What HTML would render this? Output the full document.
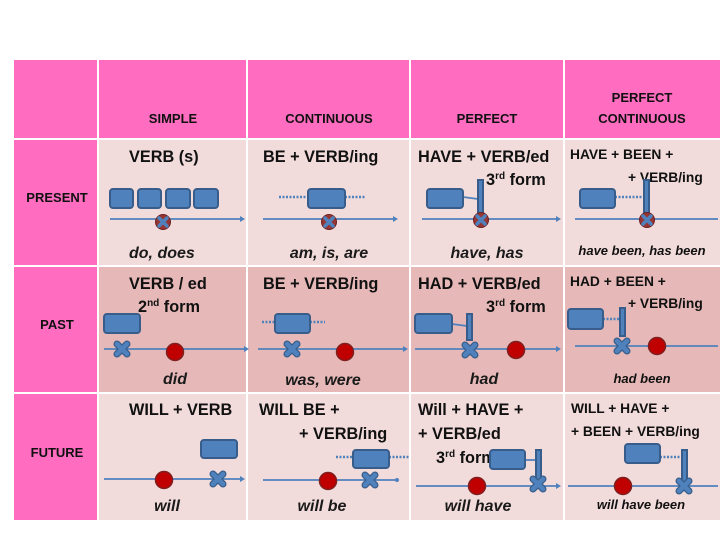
<!DOCTYPE html>
<html><head><meta charset="utf-8"><style>
html,body{margin:0;padding:0;background:#fff;}
svg{display:block;}
text{font-family:"Liberation Sans",sans-serif;fill:#111;}
.h{font-size:13px;font-weight:bold;}
.f{font-size:16.3px;font-weight:bold;}
.fs{font-size:13.8px;font-weight:bold;}
.i{font-size:16px;font-style:italic;font-weight:bold;fill:#1a1a1a;}
.is{font-size:13px;font-style:italic;font-weight:bold;}
</style></head><body>
<svg width="720" height="540" viewBox="0 0 720 540" xmlns="http://www.w3.org/2000/svg">
<defs>
<g id="x"><path d="M-5,-5L5,5M5,-5L-5,5" stroke="#385d8a" stroke-width="7" stroke-linecap="round"/><path d="M-5,-5L5,5M5,-5L-5,5" stroke="#4f81bd" stroke-width="4.5" stroke-linecap="round"/></g>
<g id="d"><circle r="8.5" fill="#c00000" stroke="#7f2020" stroke-width="1.5"/></g>
<g id="cx"><circle r="7.5" fill="#943634" stroke="#6b2020" stroke-width="1"/><path d="M-4,-4L4,4M4,-4L-4,4" stroke="#4f81bd" stroke-width="3.5" stroke-linecap="round"/></g>
</defs>
<rect width="720" height="540" fill="#fff"/>
<rect x="14" y="60" width="83" height="78" fill="#ff6cc0"/>
<rect x="99" y="60" width="147" height="78" fill="#ff6cc0"/>
<rect x="248" y="60" width="161" height="78" fill="#ff6cc0"/>
<rect x="411" y="60" width="152" height="78" fill="#ff6cc0"/>
<rect x="565" y="60" width="155" height="78" fill="#ff6cc0"/>
<rect x="14" y="140" width="83" height="125" fill="#ff6cc0"/>
<rect x="14" y="267" width="83" height="125" fill="#ff6cc0"/>
<rect x="14" y="394" width="83" height="126" fill="#ff6cc0"/>
<g fill="#f2dcdb">
<rect x="99" y="140" width="147" height="125"/><rect x="248" y="140" width="161" height="125"/><rect x="411" y="140" width="152" height="125"/><rect x="565" y="140" width="155" height="125"/>
<rect x="99" y="394" width="147" height="126"/><rect x="248" y="394" width="161" height="126"/><rect x="411" y="394" width="152" height="126"/><rect x="565" y="394" width="155" height="126"/>
</g>
<g fill="#e6b9b8">
<rect x="99" y="267" width="147" height="125"/><rect x="248" y="267" width="161" height="125"/><rect x="411" y="267" width="152" height="125"/><rect x="565" y="267" width="155" height="125"/>
</g>
<text class="h" x="173" y="123" text-anchor="middle">SIMPLE</text>
<text class="h" x="329" y="123" text-anchor="middle">CONTINUOUS</text>
<text class="h" x="487" y="123" text-anchor="middle">PERFECT</text>
<text class="h" x="642" y="102" text-anchor="middle">PERFECT</text>
<text class="h" x="642" y="123" text-anchor="middle">CONTINUOUS</text>
<text class="h" x="57" y="202" text-anchor="middle">PRESENT</text>
<text class="h" x="57" y="329" text-anchor="middle">PAST</text>
<text class="h" x="57" y="457" text-anchor="middle">FUTURE</text>
<text class="f" x="129" y="162">VERB (s)</text>
<text class="f" x="263" y="162">BE + VERB/ing</text>
<text class="f" x="418" y="162">HAVE + VERB/ed</text>
<text class="f" x="486" y="185">3<tspan font-size="10" dy="-6">rd</tspan><tspan dy="6"> form</tspan></text>
<text class="fs" x="570" y="159">HAVE + BEEN +</text>
<text class="fs" x="628" y="182">+ VERB/ing</text>
<text class="i" x="129" y="258">do, does</text>
<text class="i" x="329" y="258" text-anchor="middle">am, is, are</text>
<text class="i" x="487" y="258" text-anchor="middle">have, has</text>
<text class="is" x="642" y="255" text-anchor="middle">have been, has been</text>
<text class="f" x="129" y="289">VERB / ed</text>
<text class="f" x="138" y="312">2<tspan font-size="10" dy="-6">nd</tspan><tspan dy="6">  form</tspan></text>
<text class="f" x="263" y="289">BE + VERB/ing</text>
<text class="f" x="418" y="289">HAD + VERB/ed</text>
<text class="f" x="486" y="312">3<tspan font-size="10" dy="-6">rd</tspan><tspan dy="6"> form</tspan></text>
<text class="fs" x="570" y="286">HAD + BEEN +</text>
<text class="fs" x="628" y="308">+ VERB/ing</text>
<text class="i" x="175" y="384" text-anchor="middle">did</text>
<text class="i" x="323" y="385" text-anchor="middle">was, were</text>
<text class="i" x="484" y="384" text-anchor="middle">had</text>
<text class="is" x="642" y="383" text-anchor="middle">had been</text>
<text class="f" x="129" y="415">WILL + VERB</text>
<text class="f" x="259" y="415">WILL BE +</text>
<text class="f" x="299" y="439">+ VERB/ing</text>
<text class="f" x="418" y="415">Will + HAVE +</text>
<text class="f" x="418" y="439">+ VERB/ed</text>
<text class="f" x="436" y="463">3<tspan font-size="10" dy="-6">rd</tspan><tspan dy="6"> form</tspan></text>
<text class="fs" x="571" y="413">WILL + HAVE +</text>
<text class="fs" x="571" y="436">+ BEEN + VERB/ing</text>
<text class="i" x="167" y="511" text-anchor="middle">will</text>
<text class="i" x="322" y="511" text-anchor="middle">will be</text>
<text class="i" x="478" y="511" text-anchor="middle">will have</text>
<text class="is" x="641" y="509" text-anchor="middle">will have been</text>

<g stroke="#4f81bd" stroke-width="1.8" fill="none">
<line x1="110" y1="219" x2="240" y2="219"/><line x1="263" y1="219" x2="393" y2="219"/><line x1="422" y1="219" x2="556" y2="219"/><line x1="575" y1="219" x2="718" y2="219"/>
<line x1="104" y1="349" x2="244" y2="349"/><line x1="258" y1="349" x2="403" y2="349"/><line x1="415" y1="349" x2="556" y2="349"/><line x1="575" y1="346" x2="718" y2="346"/>
<line x1="104" y1="479" x2="240" y2="479"/><line x1="263" y1="480" x2="396" y2="480"/><line x1="416" y1="486" x2="556" y2="486"/><line x1="568" y1="486" x2="718" y2="486"/>
<g stroke-dasharray="2,1.5" stroke-width="2.5">
<line x1="279" y1="197" x2="308" y2="197"/><line x1="345" y1="197" x2="366" y2="197"/>
<line x1="615" y1="197" x2="644" y2="197"/>
<line x1="262" y1="322" x2="275" y2="322"/><line x1="310" y1="322" x2="325" y2="322"/>
<line x1="603" y1="319" x2="621" y2="319"/>
<line x1="336" y1="457" x2="353" y2="457"/><line x1="389" y1="457" x2="410" y2="457"/>
<line x1="660" y1="457" x2="682" y2="457"/>
</g>
<line x1="463" y1="197" x2="478" y2="199"/>
<line x1="452" y1="324" x2="467" y2="326"/>
<line x1="525" y1="460" x2="536" y2="460"/>
</g>
<g fill="#4f81bd">
<path d="M240,216L245,219L240,222Z"/><path d="M393,216L398,219L393,222Z"/><path d="M556,216L561,219L556,222Z"/>
<path d="M244,346L249,349L244,352Z"/><path d="M403,346L408,349L403,352Z"/><path d="M556,346L561,349L556,352Z"/>
<path d="M240,476L245,479L240,482Z"/><circle cx="397" cy="480" r="2"/><path d="M556,483L561,486L556,489Z"/>
</g>
<g fill="#4f81bd" stroke="#385d8a" stroke-width="2">
<rect x="110" y="189" width="23" height="19" rx="3"/><rect x="138" y="189" width="23" height="19" rx="3"/><rect x="166" y="189" width="24" height="19" rx="3"/><rect x="194" y="189" width="24" height="19" rx="3"/>
<rect x="308" y="189" width="37" height="19" rx="3"/>
<rect x="427" y="189" width="36" height="19" rx="3"/><rect x="478" y="180" width="5" height="40"/>
<rect x="580" y="189" width="35" height="19" rx="3"/><rect x="644" y="180" width="5" height="40"/>
<rect x="104" y="314" width="36" height="19" rx="3"/>
<rect x="275" y="314" width="35" height="19" rx="3"/>
<rect x="415" y="314" width="37" height="19" rx="3"/><rect x="467" y="314" width="5" height="26"/>
<rect x="568" y="309" width="35" height="20" rx="3"/><rect x="620" y="308" width="5" height="28"/>
<rect x="201" y="440" width="36" height="18" rx="3"/>
<rect x="353" y="450" width="36" height="18" rx="3"/>
<rect x="490" y="450" width="35" height="19" rx="3"/><rect x="536" y="450" width="5" height="38"/>
<rect x="625" y="444" width="35" height="19" rx="3"/><rect x="682" y="450" width="5" height="38"/>
</g>
<use href="#cx" x="163" y="222"/><use href="#cx" x="329" y="222"/><use href="#cx" x="481" y="220"/><use href="#cx" x="647" y="220"/>
<use href="#x" x="122" y="349"/><use href="#d" x="175" y="352"/>
<use href="#x" x="292" y="349"/><use href="#d" x="345" y="352"/>
<use href="#x" x="470" y="350"/><use href="#d" x="516" y="350"/>
<use href="#x" x="622" y="346"/><use href="#d" x="657" y="346"/>
<use href="#d" x="164" y="480"/><use href="#x" x="218" y="479"/>
<use href="#d" x="328" y="481"/><use href="#x" x="370" y="480"/>
<use href="#d" x="477" y="486"/><use href="#x" x="538" y="484"/>
<use href="#d" x="623" y="486"/><use href="#x" x="684" y="486"/>
</svg>
</body></html>
